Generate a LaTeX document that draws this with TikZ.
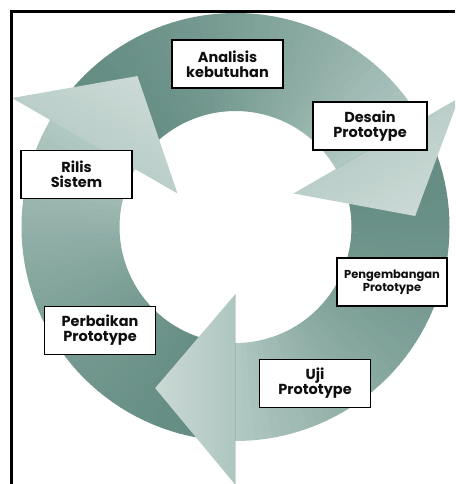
\documentclass[tikz,border=0pt]{standalone}
\usepackage{fontspec}
\setmainfont{Poppins}
\usepackage{xcolor}
\usetikzlibrary{positioning}
\definecolor{RingDark}{RGB}{100,140,130}
\definecolor{RingLight}{RGB}{176,200,194}
\definecolor{HeadLight}{RGB}{203,217,213}
\definecolor{HeadMid}{RGB}{174,198,192}
\definecolor{DarkText}{RGB}{15,15,15}
\tikzset{
  stagebox/.style={draw=black, line width=1.4pt, fill=white, align=center,
    minimum width=111pt, minimum height=48pt, inner sep=2pt,
    font=\fontsize{14.5}{15}\selectfont\bfseries, text=DarkText},
  smalltext/.style={font=\fontsize{11.5}{13}\selectfont\bfseries}
}

\begin{document}
\begin{tikzpicture}[x=1pt,y=1pt]
  \useasboundingbox (0,0) rectangle (455,484);
  \clip (0,0) rectangle (455,484);
  % ring in three parts, each dark at its tail and light at its head
  \begin{scope}[shift={(235.5,257)}]
    \foreach \s in {150,30,-90} {
      \foreach \i in {0,...,47} {
        \pgfmathsetmacro{\a}{\s-2.5*\i}
        \pgfmathtruncatemacro{\f}{100*(\i/47)^1.7}
        \fill[RingLight!\f!RingDark] (\a:116) -- (\a:214)
          arc[start angle=\a, end angle=\a-2.7, radius=214] -- (\a-2.7:116)
          arc[start angle=\a-2.7, end angle=\a, radius=116] -- cycle;
      }
    }
    % arrow heads
    \foreach \b/\t in {150/123,30/3.5,270/243.5} {
      \pgfmathsetmacro{\g}{\b-180}
      \shade[top color=HeadLight, bottom color=HeadMid, shading angle=\g]
        (\b:67) -- (\b:258) -- (\t:180) -- cycle;
    }
  \end{scope}
  % stages
  \node[stagebox] (analisis) at (227.5,420) {Analisis\\kebutuhan};
  \node[stagebox, minimum width=114pt] (desain) at (370,358) {Desain\\Prototype};
  \node[stagebox] (rilis) at (76.5,309.5) {Rilis\\Sistem};
  \node[stagebox, smalltext, minimum width=110pt] (pengembangan) at (392,202) {Pengembangan\\Prototype};
  \node[stagebox] (perbaikan) at (100,153.5) {Perbaikan\\Prototype};
  \node[stagebox] (uji) at (315,100.5) {Uji\\Prototype};
  % frame
  \draw[line width=2.5pt] (11.5,0) -- (11.5,472.7) -- (455,472.7);
\end{tikzpicture}
\end{document}
